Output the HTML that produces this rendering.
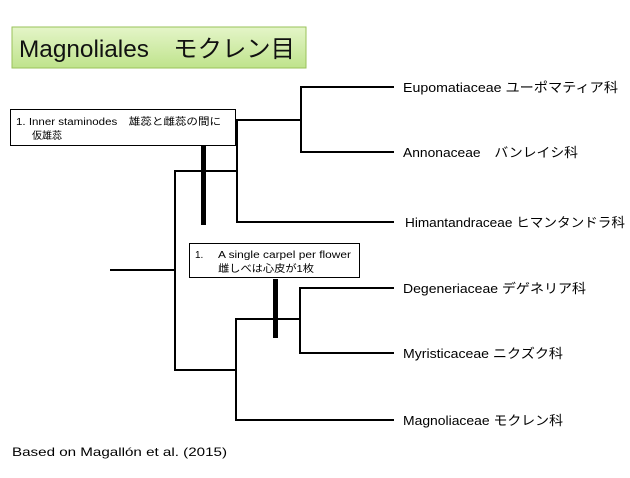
<!DOCTYPE html>
<html><head><meta charset="utf-8"><style>
body{margin:0;width:630px;height:473px;background:#fff;overflow:hidden;font-family:"Liberation Sans","Noto Sans CJK JP",sans-serif}
svg text{font-family:"Liberation Sans","Noto Sans CJK JP",sans-serif}
</style></head><body>
<svg width="630" height="473" viewBox="0 0 630 473" xmlns="http://www.w3.org/2000/svg">
<defs><linearGradient id="g" x1="0" y1="0" x2="0" y2="1"><stop offset="0" stop-color="#e4f5c8"/><stop offset="1" stop-color="#bfe38c"/></linearGradient></defs>
<rect x="12" y="27" width="294" height="41" fill="url(#g)" stroke="#9ac25a" stroke-width="1"/>
<text x="19" y="57" font-size="24" fill="#111" textLength="276" lengthAdjust="spacingAndGlyphs">Magnoliales　モクレン目</text>
<g stroke="#000" stroke-width="2" fill="none">
<path d="M394 87H301V152H394"/>
<path d="M301 120H237V222H394"/>
<path d="M237 171H175V370H236"/>
<path d="M110 270H175"/>
<path d="M394 288H300V353H394"/>
<path d="M300 319H236V420H394"/>
</g>
<rect x="201" y="145" width="5" height="80" fill="#000"/>
<rect x="273" y="279" width="5" height="59" fill="#000"/>
<rect x="10.5" y="109.5" width="225" height="36" fill="#fff" stroke="#000"/>
<text x="16" y="125" font-size="10" textLength="205" lengthAdjust="spacingAndGlyphs">1.  Inner staminodes　雄蕊と雌蕊の間に</text>
<text x="32" y="139" font-size="10">仮雄蕊</text>
<rect x="189.5" y="243.5" width="170" height="34" fill="#fff" stroke="#000"/>
<text x="195" y="258" font-size="10">1.</text>
<text x="218" y="258" font-size="10" textLength="133" lengthAdjust="spacingAndGlyphs">A single carpel per flower</text>
<text x="218" y="272" font-size="10" textLength="96" lengthAdjust="spacingAndGlyphs">雌しべは心皮が1枚</text>
<g font-size="13" fill="#000">
<text x="403" y="92" textLength="215" lengthAdjust="spacingAndGlyphs">Eupomatiaceae ユーポマティア科</text>
<text x="403" y="157" textLength="175" lengthAdjust="spacingAndGlyphs">Annonaceae　バンレイシ科</text>
<text x="405" y="227" textLength="220" lengthAdjust="spacingAndGlyphs">Himantandraceae ヒマンタンドラ科</text>
<text x="403" y="293" textLength="183" lengthAdjust="spacingAndGlyphs">Degeneriaceae デゲネリア科</text>
<text x="403" y="358" textLength="160" lengthAdjust="spacingAndGlyphs">Myristicaceae ニクズク科</text>
<text x="403" y="425" textLength="160" lengthAdjust="spacingAndGlyphs">Magnoliaceae モクレン科</text>
</g>
<text x="12" y="456" font-size="12" textLength="215" lengthAdjust="spacingAndGlyphs">Based on Magallón et al. (2015)</text>
</svg>
</body></html>
